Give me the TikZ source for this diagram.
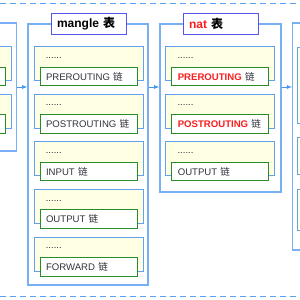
\documentclass[tikz,border=0pt]{standalone}
\usepackage{fontspec}
\setmainfont{Liberation Sans}
\newfontfamily\cjk{Noto Sans CJK SC}
\usetikzlibrary{positioning}

\definecolor{tableblue}{RGB}{120,175,245}
\definecolor{titleblue}{RGB}{85,85,240}
\definecolor{rowblue}{RGB}{100,160,240}
\definecolor{rowyellow}{RGB}{255,255,228}
\definecolor{chaingreen}{RGB}{40,140,40}
\definecolor{chaintext}{RGB}{50,50,60}
\definecolor{natred}{RGB}{250,30,30}
\definecolor{linkblue}{RGB}{70,150,240}
\definecolor{ruleblue}{RGB}{90,160,240}

\newcommand{\lian}{{\cjk 链}}
\newcommand{\biao}{{\cjk 表}}

\begin{document}
\begin{tikzpicture}[x=1pt, y=-1pt,
  tablebox/.style={rectangle, draw=tableblue, line width=1.3pt, fill=white, inner sep=0pt},
  titlebox/.style={rectangle, draw=titleblue, line width=1pt, fill=white, minimum height=21pt, text width=63pt, inner xsep=6pt, align=left, font=\fontsize{12}{14}\selectfont\bfseries},
  rowbox/.style={rectangle, draw=rowblue, line width=0.9pt, fill=rowyellow, minimum width=109pt, minimum height=34pt, inner sep=0pt},
  chainbox/.style={rectangle, draw=chaingreen, line width=0.9pt, fill=white, minimum height=18.5pt, text width=85pt, inner xsep=6pt, inner ysep=0pt, align=left, font=\fontsize{9.6}{11}\selectfont, text=chaintext},
  ellip/.style={inner sep=0pt, anchor=west, font=\fontsize{9.6}{11}\selectfont, text=chaintext},
  link/.style={draw=linkblue, -latex, line width=0.8pt},
  rule/.style={draw=ruleblue, line width=1pt, dash pattern=on 6pt off 4pt}
]
\useasboundingbox (0,0) rectangle (300,300);
\clip (0,0) rectangle (300,300);

% dashed frame lines
\draw[rule] (0,3) -- (300,3);
\draw[rule] (0,296) -- (300,296);

% previous table (cut off)
\node [tablebox, minimum width=120pt, minimum height=128pt] (prevtable) at (-43.3,87) {};
\node [rowbox] (prow1) at (-42.8,63.7) {};
\node [rowbox, below=12.67pt of prow1] (prow2) {};
\node [chainbox] (pchain1) at ([yshift=-12.75pt]prow1.center) {};
\node [chainbox] (pchain2) at ([yshift=-12.75pt]prow2.center) {};

% mangle table
\node [tablebox, minimum width=120pt, minimum height=261pt] (mangle) at (88,154.5) {};
\node [titlebox] (mangletitle) at (88.5,23.5) {mangle \biao};
\node [rowbox] (mrow1) at (88.5,63.7) {};
\node [rowbox, below=12.67pt of mrow1] (mrow2) {};
\node [rowbox, below=12.67pt of mrow2] (mrow3) {};
\node [rowbox, below=12.67pt of mrow3] (mrow4) {};
\node [rowbox, below=12.67pt of mrow4] (mrow5) {};
\node [ellip] at ([shift={(12pt,-11.6pt)}]mrow1.north west) {......};
\node [ellip] at ([shift={(12pt,-11.6pt)}]mrow2.north west) {......};
\node [ellip] at ([shift={(12pt,-11.6pt)}]mrow3.north west) {......};
\node [ellip] at ([shift={(12pt,-11.6pt)}]mrow4.north west) {......};
\node [ellip] at ([shift={(12pt,-11.6pt)}]mrow5.north west) {......};
\node [chainbox] (mpre) at ([yshift=-12.75pt]mrow1.center) {PREROUTING \lian};
\node [chainbox] (mpost) at ([yshift=-12.75pt]mrow2.center) {POSTROUTING \lian};
\node [chainbox] (minput) at ([yshift=-12.75pt]mrow3.center) {INPUT \lian};
\node [chainbox] (moutput) at ([yshift=-12.75pt]mrow4.center) {OUTPUT \lian};
\node [chainbox] (mforward) at ([yshift=-12.75pt]mrow5.center) {FORWARD \lian};

% nat table
\node [tablebox, minimum width=121pt, minimum height=168pt] (nat) at (220.5,108) {};
\node [titlebox] (nattitle) at (220.5,23.5) {\textcolor{natred}{nat} \biao};
\node [rowbox] (nrow1) at (220.3,63.7) {};
\node [rowbox, below=12.67pt of nrow1] (nrow2) {};
\node [rowbox, below=12.67pt of nrow2] (nrow3) {};
\node [ellip] at ([shift={(12pt,-11.6pt)}]nrow1.north west) {......};
\node [ellip] at ([shift={(12pt,-11.6pt)}]nrow2.north west) {......};
\node [ellip] at ([shift={(12pt,-11.6pt)}]nrow3.north west) {......};
\node [chainbox] (npre) at ([yshift=-12.75pt]nrow1.center) {\textcolor{natred}{\bfseries PREROUTING} \lian};
\node [chainbox] (npost) at ([yshift=-12.75pt]nrow2.center) {\textcolor{natred}{\bfseries POSTROUTING} \lian};
\node [chainbox] (noutput) at ([yshift=-12.75pt]nrow3.center) {OUTPUT \lian};

% next table (cut off)
\node [tablebox, minimum width=120pt, minimum height=227pt] (nexttable) at (352.7,136.5) {};
\node [rowbox, minimum height=76pt] (xrow1) at (351.5,85) {};
\node [rowbox, minimum height=37pt] (xrow2) at (351.5,155.5) {};
\node [rowbox, minimum height=41pt] (xrow3) at (351.5,209.5) {};

% links between tables
\path [link] (prevtable.east) -- (prevtable.east -| mangle.west);
\path [link] (mangle.east |- prevtable.east) -- (nat.west |- prevtable.east);
\path [link] (nat.east |- prevtable.east) -- (nexttable.west |- prevtable.east);
\end{tikzpicture}
\end{document}
